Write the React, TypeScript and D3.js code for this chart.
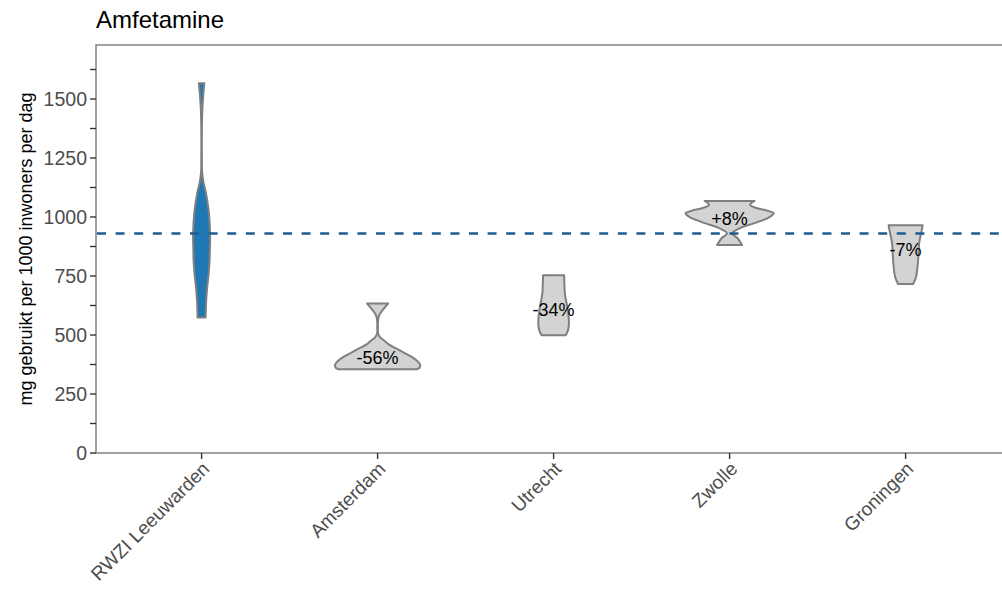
import React from "react";
import * as d3 from "d3";

const categories = ["RWZI Leeuwarden", "Amsterdam", "Utrecht", "Zwolle", "Groningen"];
const yMajorTicks = [0, 250, 500, 750, 1000, 1250, 1500];
const yMinorTicks = [125, 375, 625, 875, 1125, 1375, 1625];
const referenceLevel = 930;
const changeLabels = ["", "-56%", "-34%", "+8%", "-7%"];
const changeLabelLevels = [0, 402, 606, 994, 860];

// violin profiles: levels (mg) and relative density widths
const leeuwardenLevels = [574, 640, 701, 760, 815, 860, 913, 960, 1027, 1098, 1150, 1195, 1250, 1300, 1377, 1449, 1521, 1567];
const leeuwardenDensity = [0.051, 0.057, 0.07, 0.089, 0.101, 0.104, 0.108, 0.104, 0.089, 0.057, 0.022, 0.006, 0.004, 0.003, 0.004, 0.009, 0.022, 0.035];
const amsterdamLevels = [355, 362, 372, 386, 407, 422, 442, 460, 477, 490, 507, 530, 550, 576, 591, 611, 633];
const amsterdamDensity = [0.5, 0.53, 0.538, 0.513, 0.43, 0.348, 0.241, 0.139, 0.082, 0.032, 0.006, 0.004, 0.004, 0.013, 0.032, 0.076, 0.133];
const utrechtLevels = [499, 515, 534, 562, 604, 640, 676, 720, 753];
const utrechtDensity = [0.152, 0.177, 0.19, 0.193, 0.18, 0.161, 0.142, 0.136, 0.133];
const zwolleLevels = [881, 910, 931, 952, 973, 994, 1004, 1016, 1027, 1037, 1051, 1068];
const zwolleDensity = [0.158, 0.101, 0.032, 0.127, 0.304, 0.475, 0.525, 0.557, 0.475, 0.348, 0.259, 0.316];
const groningenLevels = [716, 747, 818, 889, 931, 965];
const groningenDensity = [0.095, 0.133, 0.158, 0.171, 0.196, 0.215];

const violinLevels = [leeuwardenLevels, amsterdamLevels, utrechtLevels, zwolleLevels, groningenLevels];
const violinDensity = [leeuwardenDensity, amsterdamDensity, utrechtDensity, zwolleDensity, groningenDensity];
const violinFills = ["#1f77b4", "#d3d3d3", "#d3d3d3", "#d3d3d3", "#d3d3d3"];

export default function App() {
  const W = 1002, H = 589;
  const left = 96, top = 45, bottom = 453;
  const step = 176;
  const right = left + step * (categories.length - 1 + 1.2);

  const x = d3.scalePoint<string>().domain(categories).range([left + 0.6 * step, right - 0.6 * step]);
  const y = d3.scaleLinear().domain([0, 1500]).range([bottom, 99]);
  const w = d3.scaleLinear().domain([0, 1]).range([0, step * 0.45]);

  const gray = "#4d4d4d";
  const axisCol = "#7a7a7a";

  return (
    <svg width={W} height={H} style={{ position: "absolute", left: 0, top: 0, fontFamily: "Liberation Sans, Arial, sans-serif" }}>
      <rect x={0} y={0} width={W} height={H} fill="white" />
      <text x={96} y={27.5} fontSize={24} fill="#000">Amfetamine</text>
      {/* panel border */}
      <rect x={left} y={top} width={right - left} height={bottom - top} fill="none" stroke={axisCol} strokeWidth={1.4} />
      {/* y ticks */}
      {yMajorTicks.map((t) => (
        <g key={"M" + t}>
          <line x1={left - 6} x2={left} y1={y(t)} y2={y(t)} stroke="#333" strokeWidth={1.4} />
          <text x={left - 9} y={y(t)} dy="0.36em" textAnchor="end" fontSize={19.5} fill={gray}>{t}</text>
        </g>
      ))}
      {yMinorTicks.map((t) => (
        <line key={"m" + t} x1={left - 6} x2={left} y1={y(t)} y2={y(t)} stroke="#333" strokeWidth={1.4} />
      ))}
      {/* x ticks */}
      {categories.map((c) => (
        <g key={c}>
          <line x1={x(c)} x2={x(c)} y1={bottom} y2={bottom + 6} stroke="#333" strokeWidth={1.4} />
          <text transform={`translate(${x(c)! + 9},${470}) rotate(-45)`} textAnchor="end" fontSize={19} fill={gray}>{c}</text>
        </g>
      ))}
      <text transform={`translate(31.5,${(top + bottom) / 2}) rotate(-90)`} textAnchor="middle" fontSize={18} fill="#000">
        mg gebruikt per 1000 inwoners per dag
      </text>
      {/* violins */}
      {categories.map((c, i) => {
        const cx = x(c)!;
        const pts = violinLevels[i].map((v, j) => [v, violinDensity[i][j]] as [number, number]);
        const area = d3.area<[number, number]>()
          .curve(d3.curveCatmullRom)
          .y((d) => y(d[0]))
          .x0((d) => cx - w(d[1]))
          .x1((d) => cx + w(d[1]));
        return (
          <path key={"v" + c} d={area(pts) || ""} fill={violinFills[i]} stroke="#7f7f7f" strokeWidth={2} strokeLinejoin="round" />
        );
      })}
      {/* reference line */}
      <line x1={left + 1} x2={right} y1={y(referenceLevel)} y2={y(referenceLevel)} stroke="#1f5b8e" strokeWidth={2.6} strokeDasharray="9,9.6" />
      {/* change labels */}
      {categories.map((c, i) =>
        changeLabels[i] ? (
          <text key={"l" + c} x={x(c)} y={y(changeLabelLevels[i])} dy="0.35em" textAnchor="middle" fontSize={18} fill="#000">
            {changeLabels[i]}
          </text>
        ) : null
      )}
    </svg>
  );
}
